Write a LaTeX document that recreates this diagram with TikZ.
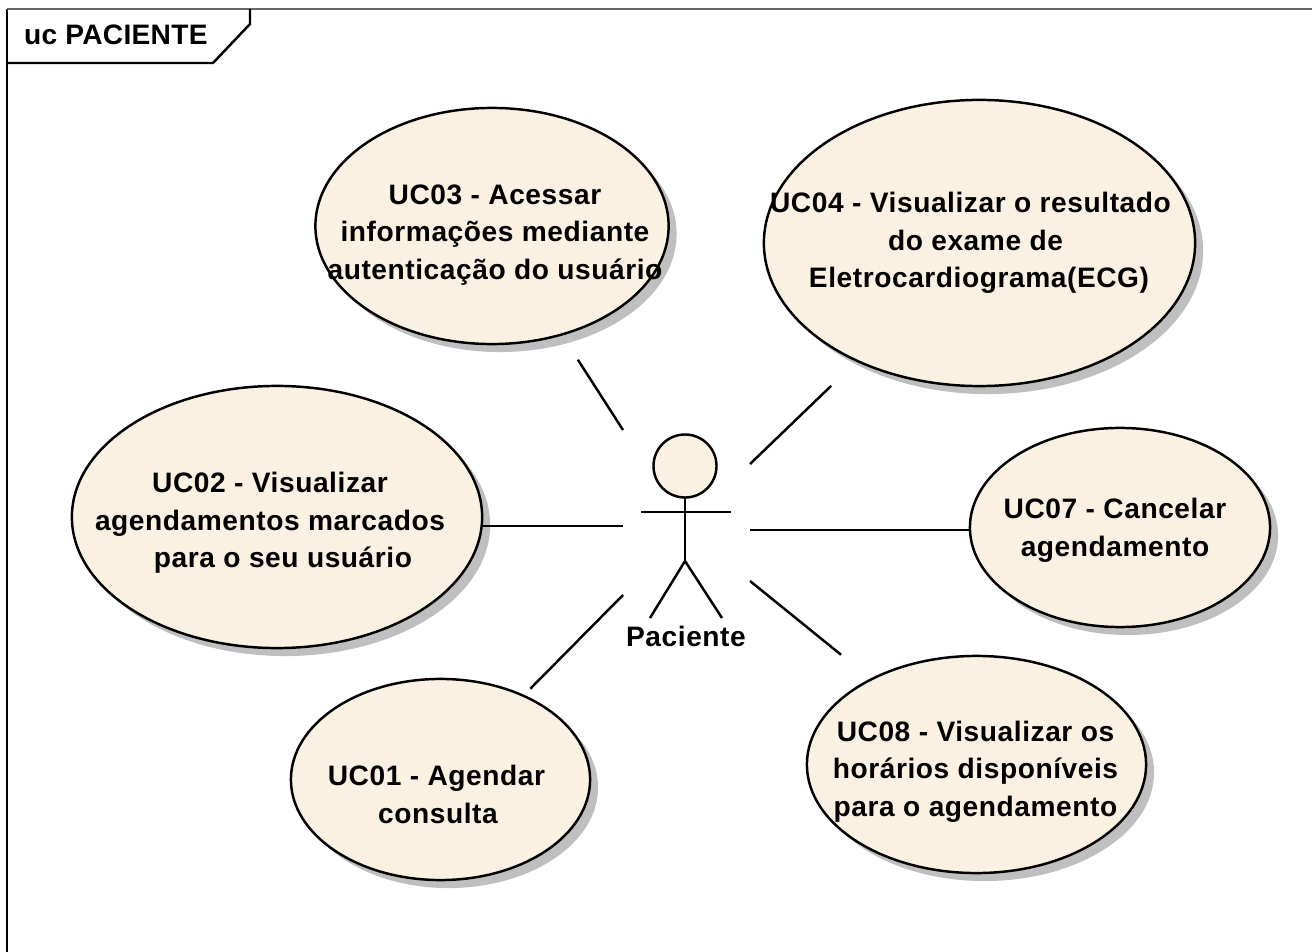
\documentclass[tikz,border=0pt]{standalone}
\usepackage{fontspec}
\setmainfont{Liberation Sans}[LetterSpace=2]
\usetikzlibrary{shapes,shadows}
\usetikzlibrary{positioning}
\definecolor{cream}{RGB}{251,241,227}
\tikzstyle{ucd}=[x=0.01cm, y=-0.01cm, line width=0.7pt]
\tikzstyle{uc}=[ellipse, draw=black, fill=cream, inner sep=0, outer sep=0,
                drop shadow={shadow xshift=0.08cm, shadow yshift=-0.08cm,
                opacity=1, fill=black!25}]
\tikzstyle{uctext}=[align=center, inner sep=0, font=\fontsize{8}{10.7}\selectfont\bfseries]
\begin{document}
\begin{tikzpicture}[ucd]
  \path[use as bounding box] (0,0) rectangle (1312,952);
  % frame
  \coordinate (fb) at (7,952);
  \coordinate (ft) at (7,9);
  \coordinate (fr) at (1312,9);
  \coordinate (ta) at (7,63);
  \coordinate (tb) at (213,63);
  \coordinate (tc) at (250,24);
  \coordinate (td) at (250,9);
  \draw (fb) -- (ft);
  \draw[black!60] (ft) -- (fr);
  \draw (ta) -- (tb) -- (tc) -- (td);
  \node[uctext, anchor=west] (title) at (23,35) {\addfontfeature{LetterSpace=1}uc PACIENTE};
  % use cases
  \node[uc, minimum width=3.53cm, minimum height=2.36cm,
        label={[uctext, xshift=0.03cm, yshift=-0.09cm]center:{UC03 - Acessar\\informações mediante\\autenticação do usuário}}] (uc03) at (492,226) {};
  \node[uc, minimum width=4.31cm, minimum height=2.86cm,
        label={[uctext, xshift=-0.04cm]center:{UC04 - Visualizar o resultado\hspace*{0.10cm}\\do exame de\\\hspace*{0.07cm}Eletrocardiograma(ECG)}}] (uc04) at (979.5,243) {};
  \node[uc, minimum width=4.10cm, minimum height=2.62cm,
        label={[uctext, xshift=-0.07cm, yshift=-0.06cm]center:{UC02 - Visualizar\\agendamentos marcados\\\hspace*{0.26cm}para o seu usuário}}] (uc02) at (277,517) {};
  \node[uc, minimum width=3.00cm, minimum height=1.99cm,
        label={[uctext, xshift=-0.05cm, yshift=-0.03cm]center:{UC07 - Cancelar\\agendamento}}] (uc07) at (1120,527.5) {};
  \node[uc, minimum width=3.39cm, minimum height=2.17cm,
        label={[uctext, xshift=-0.01cm, yshift=-0.07cm]center:{UC08 - Visualizar os\\horários disponíveis\\para o agendamento}}] (uc08) at (976.5,764.5) {};
  \node[uc, minimum width=2.99cm, minimum height=2.01cm,
        label={[uctext, xshift=-0.04cm, yshift=-0.15cm]center:{UC01 - Agendar\\\hspace*{0.03cm}consulta}}] (uc01) at (440.5,779.5) {};
  % actor
  \node[circle, draw=black, fill=cream, inner sep=0, outer sep=0, minimum size=0.63cm] (head) at (685,466) {};
  \coordinate (hip) at (685,561);
  \coordinate (larm) at (641,512);
  \coordinate (rarm) at (731,512);
  \coordinate (lfoot) at (650,618);
  \coordinate (rfoot) at (722,618);
  \draw (head) -- (hip);
  \draw (larm) -- (rarm);
  \draw (lfoot) -- (hip) -- (rfoot);
  \node[uctext] (paciente) at (686,636) {Paciente};
  % associations
  \coordinate (p3) at (623,430);
  \coordinate (p4) at (750,464);
  \coordinate (p2) at (623,526);
  \coordinate (p7) at (750,530);
  \coordinate (p8) at (750,581);
  \coordinate (p1) at (623,595);
  \path
    (uc03) edge[shorten <=0.30cm] (p3)
    (uc04) edge[shorten <=0.36cm] (p4)
    (uc02.east |- p2) edge (p2)
    (uc07.west |- p7) edge (p7)
    (uc08) edge[shorten <=0.39cm] (p8)
    (uc01) edge[shorten <=0.10cm] (p1);
\end{tikzpicture}
\end{document}
